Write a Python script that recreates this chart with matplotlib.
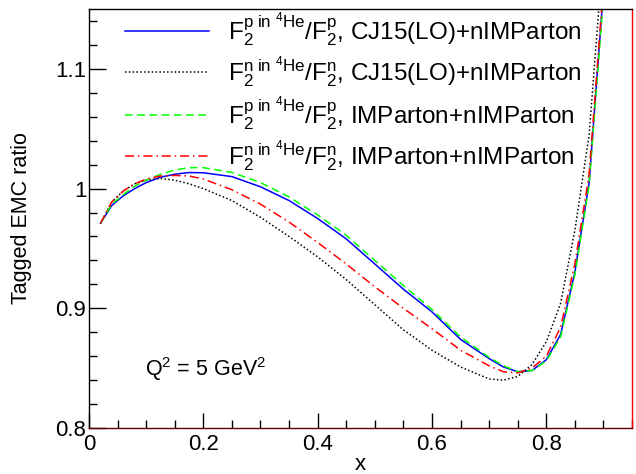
import matplotlib
matplotlib.use("Agg")
import matplotlib.pyplot as plt
from matplotlib.ticker import MultipleLocator

plt.rcParams["font.family"] = ["Liberation Sans", "DejaVu Sans"]
plt.rcParams["mathtext.fontset"] = "custom"
plt.rcParams["mathtext.rm"] = "Liberation Sans"
plt.rcParams["mathtext.it"] = "Liberation Sans"

# x values of the calculation
x = [0.02, 0.04, 0.06, 0.08, 0.10, 0.125, 0.15, 0.175, 0.20, 0.25, 0.30, 0.35, 0.40,
     0.45, 0.50, 0.55, 0.60, 0.65, 0.70, 0.725, 0.75, 0.775, 0.80, 0.825, 0.85, 0.875, 0.90]

# proton in 4He, CJ15(LO)+nIMParton
p_cj15 = [0.971, 0.986, 0.994, 1.000, 1.005, 1.0095, 1.012, 1.0134, 1.0132, 1.010, 1.0015, 0.990, 0.975,
          0.958, 0.937, 0.916, 0.897, 0.874, 0.858, 0.851, 0.847, 0.848, 0.857, 0.878, 0.930, 1.005, 1.165]
# neutron in 4He, CJ15(LO)+nIMParton
n_cj15 = [0.971, 0.989, 0.998, 1.004, 1.007, 1.0085, 1.007, 1.004, 1.000, 0.990, 0.976, 0.960, 0.943,
          0.924, 0.903, 0.882, 0.865, 0.851, 0.841, 0.840, 0.843, 0.853, 0.872, 0.904, 0.965, 1.045, 1.20]
# proton in 4He, IMParton+nIMParton
p_imp = [0.971, 0.987, 0.995, 1.002, 1.007, 1.012, 1.0155, 1.0175, 1.0175, 1.0135, 1.005, 0.993, 0.978,
         0.961, 0.940, 0.919, 0.899, 0.876, 0.859, 0.852, 0.847, 0.848, 0.856, 0.876, 0.928, 1.003, 1.16]
# neutron in 4He, IMParton+nIMParton
n_imp = [0.971, 0.989, 0.998, 1.004, 1.008, 1.0105, 1.011, 1.0105, 1.008, 0.999, 0.987, 0.972, 0.955,
         0.937, 0.918, 0.900, 0.883, 0.865, 0.852, 0.847, 0.846, 0.850, 0.860, 0.884, 0.937, 1.012, 1.17]

lab_p = r"$\mathrm{F}_2^{\mathrm{p\ in\ {}^4He}}/\mathrm{F}_2^{\mathrm{p}}$, "
lab_n = r"$\mathrm{F}_2^{\mathrm{n\ in\ {}^4He}}/\mathrm{F}_2^{\mathrm{n}}$, "

fig = plt.figure(figsize=(6.36, 4.74), dpi=100)
ax = fig.add_axes([0.14, 0.097, 0.8537, 0.884])

ax.plot(x, p_cj15, color="#0000ff", lw=1.1, ls="-", label=lab_p + "CJ15(LO)+nIMParton")
ax.plot(x, n_cj15, color="black", lw=1.1, ls=(0, (1, 1.5)), label=lab_n + "CJ15(LO)+nIMParton")
ax.plot(x, p_imp, color="#00ff00", lw=1.1, ls=(0, (5, 3)), label=lab_p + "IMParton+nIMParton")
ax.plot(x, n_imp, color="#ff0000", lw=1.1, ls=(0, (6, 2.5, 1, 2.5)), label=lab_n + "IMParton+nIMParton")

ax.set_xlim(0, 0.95)
ax.set_ylim(0.8, 1.15)
ax.xaxis.set_minor_locator(MultipleLocator(0.05))
ax.yaxis.set_minor_locator(MultipleLocator(0.02))
ax.set_xticks([0, 0.2, 0.4, 0.6, 0.8])
ax.set_xticklabels(["0", "0.2", "0.4", "0.6", "0.8"])
ax.set_yticks([0.8, 0.9, 1.0, 1.1])
ax.set_yticklabels(["0.8", "0.9", "1", "1.1"])
ax.tick_params(axis="both", which="both", direction="in", labelsize=16, width=1)
ax.tick_params(axis="x", which="major", length=11, pad=4)
ax.tick_params(axis="x", which="minor", length=5.5)
ax.tick_params(axis="y", which="major", length=12, pad=2)
ax.tick_params(axis="y", which="minor", length=6)
for s in ax.spines.values():
    s.set_linewidth(1)
ax.spines["right"].set_color("#ff0000")
ax.spines["bottom"].set_color("#600000")

ax.set_xlabel("x", fontsize=16)
ax.set_ylabel("Tagged EMC ratio", fontsize=15.5)
ax.xaxis.set_label_coords(0.5, -0.062)
ax.yaxis.set_label_coords(-0.105, 0.5)

ax.text(0.098, 0.849, r"Q$^{2}$ = 5 GeV$^{2}$", fontsize=15.5, va="center", ha="left")

ax.legend(loc="upper left", bbox_to_anchor=(0.0484, 1.02), frameon=False, fontsize=17.5,
          handlelength=3.46, handletextpad=0.78, labelspacing=0.21, borderaxespad=0)

fig.savefig("out.png", dpi=100)
